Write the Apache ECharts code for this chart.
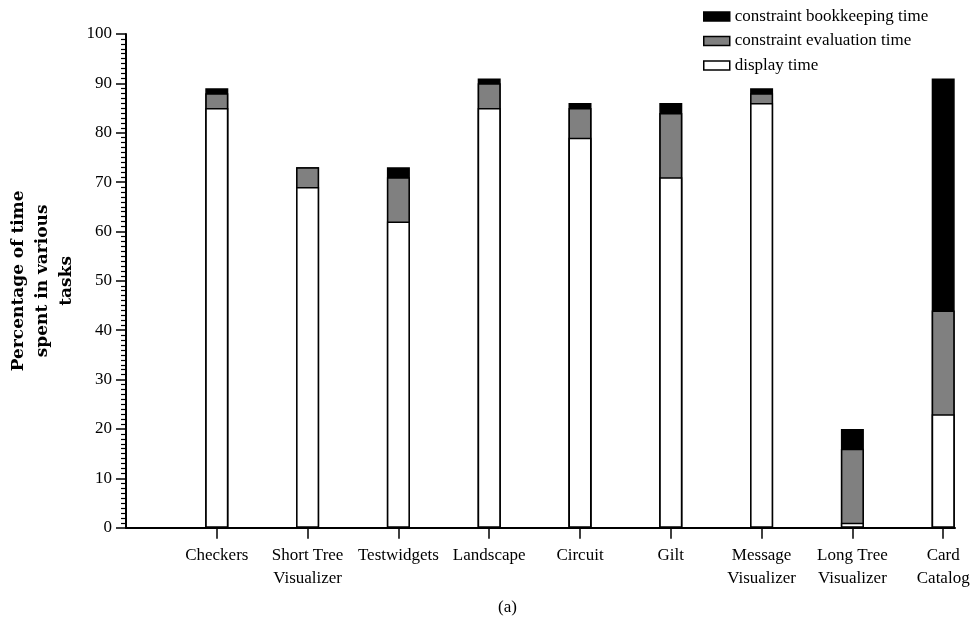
<!DOCTYPE html>
<html>
<head>
<meta charset="utf-8">
<script src="https://cdn.jsdelivr.net/npm/echarts@6/dist/echarts.min.js"></script>
<style>html,body{margin:0;padding:0;background:#fff}#c{width:974px;height:622px}</style>
</head>
<body>
<div id="c"></div>
<script>
const categories = ['Checkers', 'Short Tree\nVisualizer', 'Testwidgets', 'Landscape', 'Circuit', 'Gilt', 'Message\nVisualizer', 'Long Tree\nVisualizer', 'Card\nCatalog'];
const displayTime = [85, 69, 62, 85, 79, 71, 86, 1, 23];
const evaluationTime = [3, 4, 9, 5, 6, 13, 2, 15, 21];
const bookkeepingTime = [1, 0, 2, 1, 1, 2, 1, 4, 47];
const yTicks = [0, 10, 20, 30, 40, 50, 60, 70, 80, 90, 100];

const positions = categories.map((c, i) => i + 1);
const FONT = '"Liberation Serif", "Times New Roman", serif';
const border = { borderColor: '#000', borderWidth: 1.5 };

// cumulative tops of each stacked segment (drawn as overlapping bars)
const evalTop = displayTime.map((v, i) => v + evaluationTime[i]);
const bookTop = evalTop.map((v, i) => v + bookkeepingTime[i]);
const toData = arr => arr.map((v, i) => [positions[i], v]);

const chart = echarts.init(document.getElementById('c'), null, { renderer: 'canvas' });
chart.setOption({
  animation: false,
  backgroundColor: '#fff',
  title: {
    text: '(a)', left: 493, top: 594,
    textStyle: { fontFamily: FONT, fontSize: 17, fontWeight: 'normal', color: '#000' }
  },
  legend: {
    orient: 'vertical', left: 703, top: 8, padding: 0,
    itemWidth: 26, itemHeight: 9, itemGap: 7.5,
    icon: 'rect',
    textStyle: { fontFamily: FONT, fontSize: 17, color: '#000' },
    itemStyle: { borderColor: '#000', borderWidth: 1.5 },
    data: ['constraint bookkeeping time', 'constraint evaluation time', 'display time']
  },
  grid: { left: 126, right: 19, top: 34, bottom: 94.3, containLabel: false, outerBoundsMode: 'none' },
  xAxis: {
    type: 'value', min: 0, max: 9.13,
    axisLine: { show: true, lineStyle: { color: '#000', width: 2 } },
    axisTick: { show: true, length: 11, customValues: positions, lineStyle: { color: '#000', width: 1.5 } },
    axisLabel: {
      customValues: positions,
      formatter: v => categories[Math.round(v) - 1] || '',
      fontFamily: FONT, fontSize: 17, color: '#000', margin: 16, lineHeight: 23
    },
    splitLine: { show: false }
  },
  yAxis: {
    type: 'value', min: yTicks[0], max: yTicks[yTicks.length - 1], interval: 10,
    name: 'Percentage of time\nspent in various\ntasks',
    nameLocation: 'middle', nameGap: 47, nameMoveOverlap: false,
    nameTextStyle: { fontFamily: '"DejaVu Serif", serif', fontSize: 17, fontWeight: 'bold', color: '#000', lineHeight: 24 },
    axisLine: { show: true, lineStyle: { color: '#000', width: 2 } },
    axisTick: { show: true, length: 10, lineStyle: { color: '#000', width: 1.5 } },
    minorTick: { show: true, splitNumber: 10, length: 5, lineStyle: { color: '#000', width: 1.2 } },
    axisLabel: { fontFamily: FONT, fontSize: 17, color: '#000', margin: 14 },
    splitLine: { show: false }
  },
  series: [
    { name: 'constraint bookkeeping time', type: 'bar', barWidth: 23, barGap: '-100%',
      itemStyle: Object.assign({ color: '#000000' }, border), data: toData(bookTop) },
    { name: 'constraint evaluation time', type: 'bar', barWidth: 23, barGap: '-100%',
      itemStyle: Object.assign({ color: '#808080' }, border), data: toData(evalTop) },
    { name: 'display time', type: 'bar', barWidth: 23, barGap: '-100%',
      itemStyle: Object.assign({ color: '#ffffff' }, border), data: toData(displayTime) }
  ]
});
</script>
</body>
</html>
